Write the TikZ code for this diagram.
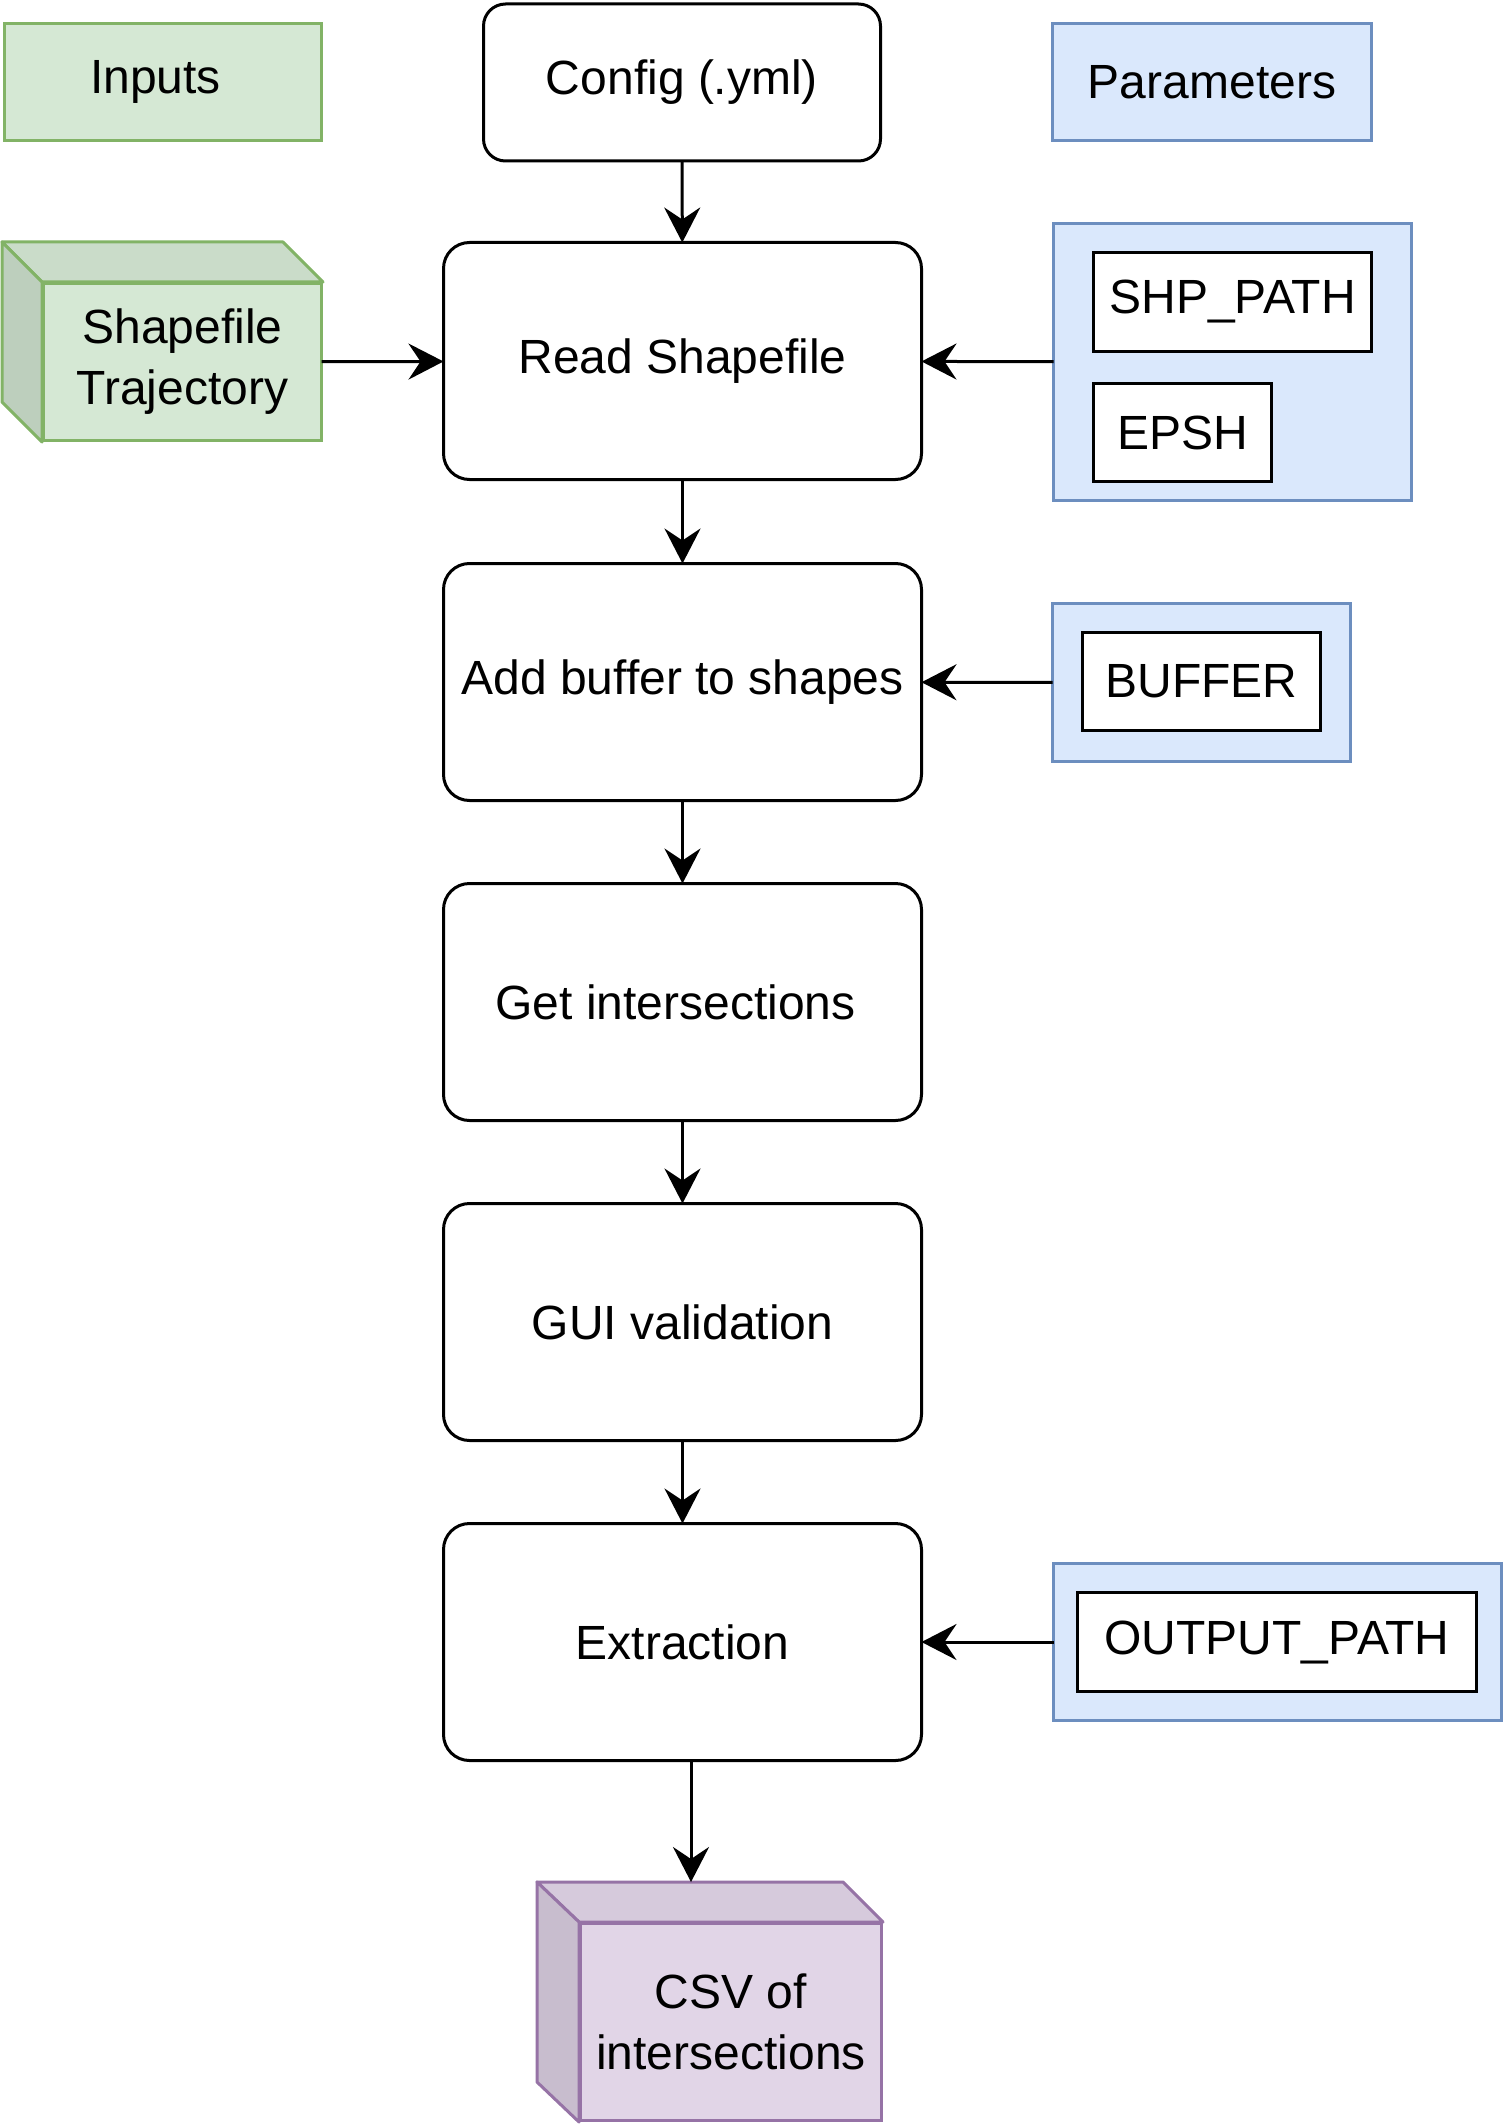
\documentclass[tikz,border=0pt]{standalone}
\usepackage{fontspec}
\setmainfont{Liberation Sans}
\usetikzlibrary{arrows.meta}
\definecolor{gfill}{HTML}{D5E8D4}
\definecolor{gline}{HTML}{82B366}
\definecolor{bfill}{HTML}{DAE8FC}
\definecolor{bline}{HTML}{6C8EBF}
\definecolor{pfill}{HTML}{E1D5E7}
\definecolor{pline}{HTML}{9673A6}
\begin{document}
\begin{tikzpicture}[x=1pt,y=-1pt,
  every node/.style={font=\fontsize{48}{61}\selectfont, inner sep=0pt, outer sep=0pt, align=center},
  greenbox/.style={draw=gline, fill=gfill, line width=3pt},
  bluebox/.style={draw=bline, fill=bfill, line width=3pt},
  purplebox/.style={draw=pline, fill=pfill, line width=3pt},
  procbox/.style={draw=black, fill=white, line width=3pt, rounded corners=26pt, minimum width=478pt, minimum height=237pt},
  parambox/.style={draw=black, fill=white, line width=3pt},
  conn/.style={line width=3pt, -{Stealth[length=35pt,width=36pt,inset=12pt]}}
]
\useasboundingbox[fill=white] (0,0) rectangle (1504,2124);

% top row
\node[greenbox, minimum width=317pt, minimum height=117pt] (inputs) at (162.5,82) {Inputs\hspace*{14pt}};
\node[draw=black, fill=white, line width=3pt, rounded corners=22pt, minimum width=397pt, minimum height=157pt] (config) at (682,82.5) {Config (.yml)};
\node[bluebox, minimum width=319pt, minimum height=117pt] (params) at (1212,82) {Parameters};

% shapefile cube
\fill[gfill!95!black, draw=gline, line width=3pt, line join=round] (2,242) -- (283,242) -- (323,282) -- (42,282) -- cycle;
\fill[gfill!89!black, draw=gline, line width=3pt, line join=round] (2,242) -- (42,282) -- (42,442) -- (2,402) -- cycle;
\node[greenbox, minimum width=278pt, minimum height=157pt] (shp) at (182.5,362) {Shapefile\\Trajectory};

% process boxes
\node[procbox] (read) at (682.5,361) {Read Shapefile};
\node[procbox] (buf) at (682.5,682) {Add buffer to shapes};
\node[procbox] (inter) at (682.5,1002) {Get intersections\hspace*{14pt}};
\node[procbox] (gui) at (682.5,1322) {GUI validation};
\node[procbox] (extr) at (682.5,1642) {Extraction};

% parameter groups
\node[bluebox, minimum width=358pt, minimum height=277pt] (g1) at (1232.5,362) {};
\node[parambox, minimum width=278pt, minimum height=99pt] (shppath) at (1232.5,302) {SHP\_PATH};
\node[parambox, minimum width=178pt, minimum height=98pt] (epsh) at (1182.5,432.5) {EPSH};

\node[bluebox, minimum width=298pt, minimum height=158pt] (g2) at (1201.5,682.5) {};
\node[parambox, minimum width=238pt, minimum height=98pt] (bufp) at (1201.5,681.5) {BUFFER};

\node[bluebox, minimum width=448pt, minimum height=157pt] (g3) at (1277.5,1642) {};
\node[parambox, minimum width=399pt, minimum height=99pt] (outp) at (1277,1642) {OUTPUT\_PATH};

% csv cube
\fill[pfill!95!black, draw=pline, line width=3pt, line join=round] (537,1882) -- (843,1882) -- (883,1922) -- (579,1922) -- cycle;
\fill[pfill!89!black, draw=pline, line width=3pt, line join=round] (537,1882) -- (579,1922) -- (579,2122) -- (537,2082) -- cycle;
\node[purplebox, minimum width=301pt, minimum height=197pt] (csv) at (731,2022) {CSV of\\intersections};
\coordinate (csvtop) at (691,1882);

% connectors
\draw[conn] (config) -- (read);
\draw[conn] (shp) -- (read);
\draw[conn] (g1) -- (read);
\draw[conn] (read) -- (buf);
\draw[conn] (g2) -- (buf);
\draw[conn] (buf) -- (inter);
\draw[conn] (inter) -- (gui);
\draw[conn] (gui) -- (extr);
\draw[conn] (g3) -- (extr);
\draw[conn] (extr.south -| csvtop) -- (csvtop);
\end{tikzpicture}
\end{document}
